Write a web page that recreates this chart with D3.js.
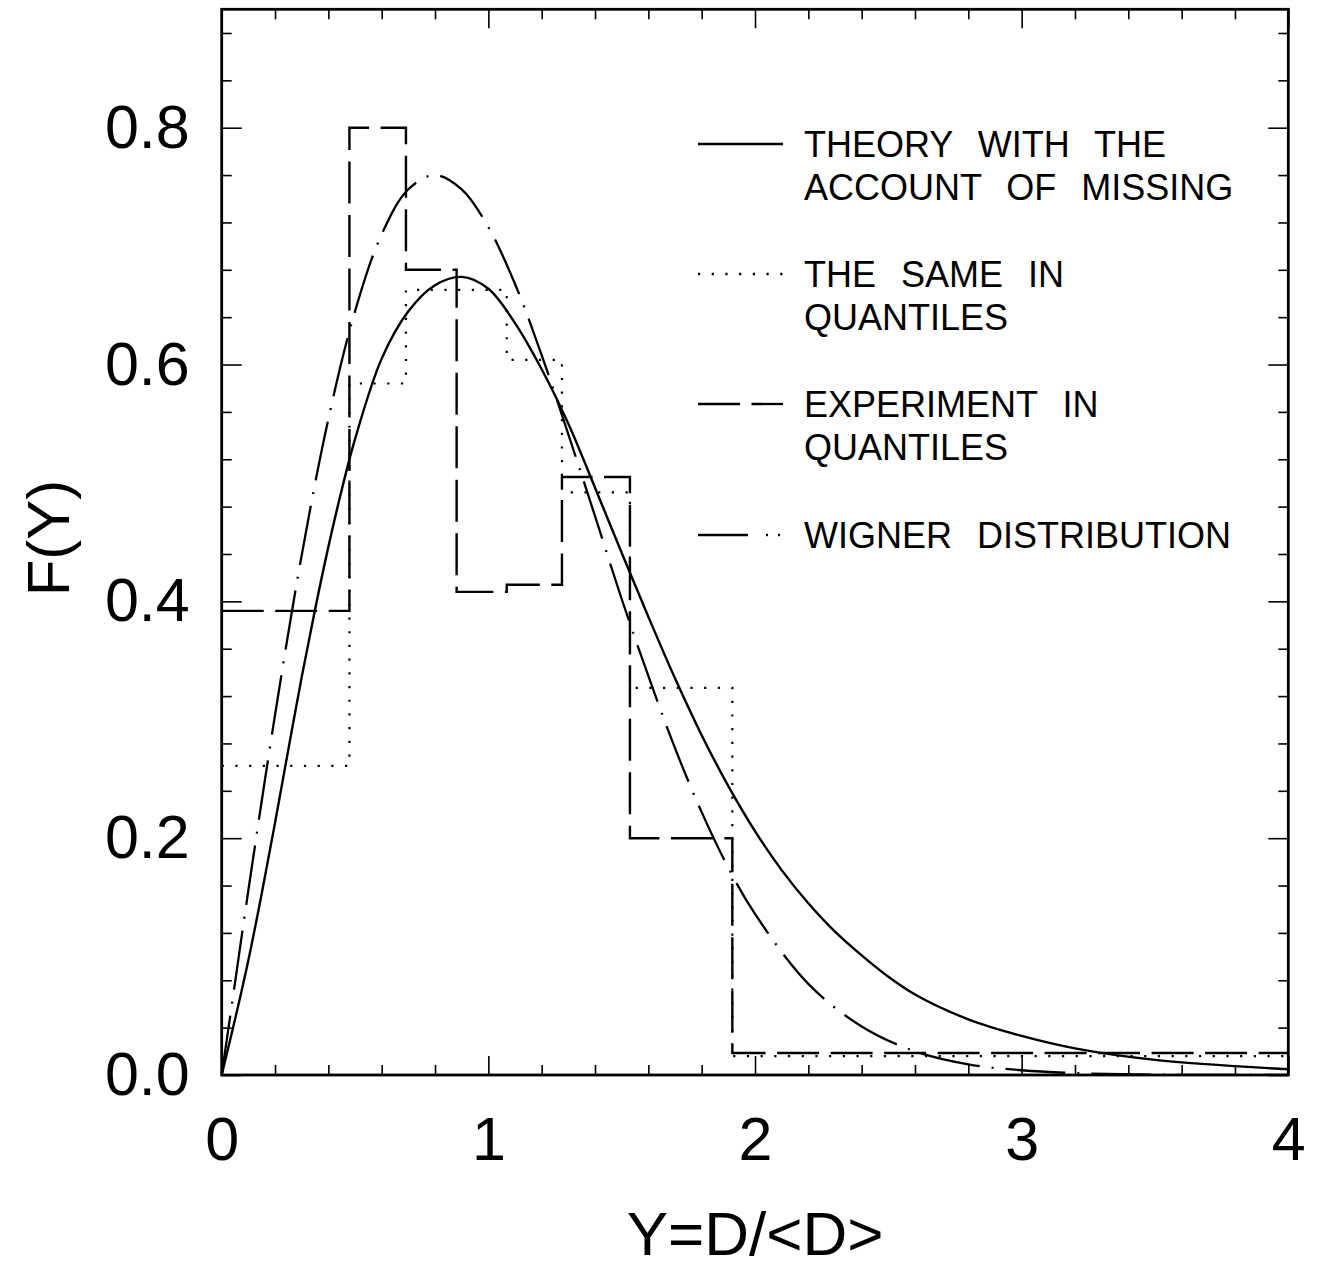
<!DOCTYPE html>
<html>
<head>
<meta charset="utf-8">
<script src="https://cdn.jsdelivr.net/npm/d3@7"></script>
<style>
  html, body { margin: 0; padding: 0; background: #fff; }
  svg { display: block; }
  text { font-family: "Liberation Sans", Arial, Helvetica, sans-serif; fill: #000; }
</style>
</head>
<body>
<svg id="chart" width="1322" height="1267"></svg>
<script>
// ---------------- DATA ----------------
const xTickMajor = [0, 1, 2, 3, 4];
const xTickLabels = ["0", "1", "2", "3", "4"];
const yTickMajor = [0, 0.2, 0.4, 0.6, 0.8];
const yTickLabels = ["0.0", "0.2", "0.4", "0.6", "0.8"];

// Theory with the account of missing (solid curve)
const theoryX = [0, 0.05, 0.1, 0.15, 0.2, 0.25, 0.3, 0.35, 0.4, 0.45, 0.5, 0.6, 0.7, 0.8, 0.9, 1.0, 1.1, 1.2, 1.3, 1.4, 1.5, 1.6, 1.7, 1.8, 1.9, 2.0, 2.1, 2.2, 2.3, 2.4, 2.5, 2.6, 2.8, 3.0, 3.2, 3.5, 4.0];
const theoryY = [0, 0.047, 0.097, 0.153, 0.213, 0.275, 0.336, 0.393, 0.446, 0.494, 0.537, 0.605, 0.645, 0.667, 0.674, 0.664, 0.635, 0.596, 0.550, 0.496, 0.441, 0.387, 0.335, 0.287, 0.244, 0.206, 0.173, 0.145, 0.121, 0.101, 0.083, 0.068, 0.047, 0.033, 0.0225, 0.0128, 0.0048];

// Wigner distribution (dash-dot curve)
const wignerX = [0, 0.05, 0.1, 0.2, 0.3, 0.4, 0.5, 0.6, 0.7, 0.8, 0.9, 1.0, 1.1, 1.2, 1.3, 1.4, 1.5, 1.6, 1.7, 1.8, 1.9, 2.0, 2.2, 2.4, 2.6, 2.8, 3.0, 3.2, 3.5, 4.0];
const wignerY = [0, 0.078, 0.156, 0.304, 0.439, 0.554, 0.645, 0.710, 0.748, 0.760, 0.748, 0.716, 0.668, 0.608, 0.541, 0.472, 0.402, 0.337, 0.276, 0.222, 0.175, 0.136, 0.077, 0.041, 0.020, 0.009, 0.004, 0.0016, 0.0003, 0.0];

// Quantile bin edges (shared by both histograms)
const binEdges = [0, 0.479, 0.691, 0.881, 1.069, 1.276, 1.531, 1.915, 4.0];
// The same (theory) in quantiles  (dotted)
const theoryQuant = [0.261, 0.584, 0.663, 0.663, 0.604, 0.492, 0.327, 0.016];
// Experiment in quantiles (dashed)
const experQuant = [0.392, 0.800, 0.680, 0.408, 0.414, 0.505, 0.200, 0.0186];

const legendLabels = [
  ["THEORY WITH THE", "ACCOUNT OF MISSING"],
  ["THE SAME IN", "QUANTILES"],
  ["EXPERIMENT IN", "QUANTILES"],
  ["WIGNER DISTRIBUTION"]
];
const xTitle = "Y=D/<D>";
const yTitle = "F(Y)";

// ---------------- DRAWING ----------------
const svg = d3.select("#chart");
const x = d3.scaleLinear().domain([0, 4]).range([221.7, 1288.3]);
const y = d3.scaleLinear().domain([0, 0.9]).range([1075, 9.3]);

const FONT_TICK = 61;
const styles = {
  theory: { dash: null },
  same: { dash: "2.2,11.5" },
  exper: { dash: "42,11.5" },
  wigner: { dash: "60,12,2,12" }
};

const xMinor = d3.range(0, 4.0001, 0.2).filter(v => !xTickMajor.some(m => Math.abs(m - v) < 1e-6));
const yMinor = d3.range(0, 0.9001, 0.04).filter(v => !yTickMajor.some(m => Math.abs(m - v) < 1e-6));

function styleAxis(g) {
  g.select(".domain").remove();
  g.selectAll(".tick line").attr("stroke", "#000").attr("stroke-width", 1.6);
}
function styleLabels(g) {
  g.selectAll("text").attr("font-size", FONT_TICK)
    .style("font-family", '"Liberation Sans", Arial, sans-serif').attr("fill", "#000");
}

// bottom
svg.append("g").attr("transform", `translate(0,${y(0)})`)
  .call(d3.axisBottom(x).tickValues(xMinor).tickSize(-10).tickFormat(""))
  .call(styleAxis);
svg.append("g").attr("transform", `translate(0,${y(0)})`)
  .call(d3.axisBottom(x).tickValues(xTickMajor).tickSize(-19).tickPadding(42)
    .tickFormat((d, i) => xTickLabels[i]))
  .call(styleAxis).call(styleLabels);
// top
svg.append("g").attr("transform", `translate(0,${y(0.9)})`)
  .call(d3.axisTop(x).tickValues(xMinor).tickSize(-10).tickFormat(""))
  .call(styleAxis);
svg.append("g").attr("transform", `translate(0,${y(0.9)})`)
  .call(d3.axisTop(x).tickValues(xTickMajor).tickSize(-19).tickFormat(""))
  .call(styleAxis);
// left
svg.append("g").attr("transform", `translate(${x(0)},0)`)
  .call(d3.axisLeft(y).tickValues(yMinor).tickSize(-10).tickFormat(""))
  .call(styleAxis);
svg.append("g").attr("transform", `translate(${x(0)},0)`)
  .call(d3.axisLeft(y).tickValues(yTickMajor).tickSize(-20).tickPadding(32)
    .tickFormat((d, i) => yTickLabels[i]))
  .call(styleAxis).call(styleLabels);
// right
svg.append("g").attr("transform", `translate(${x(4)},0)`)
  .call(d3.axisRight(y).tickValues(yMinor).tickSize(-10).tickFormat(""))
  .call(styleAxis);
svg.append("g").attr("transform", `translate(${x(4)},0)`)
  .call(d3.axisRight(y).tickValues(yTickMajor).tickSize(-20).tickFormat(""))
  .call(styleAxis);

// clip
svg.append("clipPath").attr("id", "plotclip").append("rect")
  .attr("x", x(0)).attr("y", y(0.9)).attr("width", x(4) - x(0)).attr("height", y(0) - y(0.9));
const plot = svg.append("g").attr("clip-path", "url(#plotclip)");

const smooth = d3.line().x(d => x(d[0])).y(d => y(d[1])).curve(d3.curveCatmullRom.alpha(0.5));
const step = d3.line().x(d => x(d[0])).y(d => y(d[1])).curve(d3.curveStepAfter);

function stepData(vals) {
  const pts = vals.map((v, i) => [binEdges[i], v]);
  pts.push([binEdges[binEdges.length - 1], vals[vals.length - 1]]);
  return pts;
}

plot.append("path").datum(stepData(theoryQuant))
  .attr("d", step).attr("fill", "none").attr("stroke", "#000")
  .attr("stroke-width", 2.2).attr("stroke-dasharray", styles.same.dash);
plot.append("path").datum(stepData(experQuant))
  .attr("d", step).attr("fill", "none").attr("stroke", "#000")
  .attr("stroke-width", 2.4).attr("stroke-dasharray", styles.exper.dash);
plot.append("path").datum(wignerX.map((v, i) => [v, wignerY[i]]))
  .attr("d", smooth).attr("fill", "none").attr("stroke", "#000")
  .attr("stroke-width", 2.3).attr("stroke-dasharray", styles.wigner.dash);
plot.append("path").datum(theoryX.map((v, i) => [v, theoryY[i]]))
  .attr("d", smooth).attr("fill", "none").attr("stroke", "#000")
  .attr("stroke-width", 2.4);

// frame
svg.append("rect")
  .attr("x", x(0)).attr("y", y(0.9)).attr("width", x(4) - x(0)).attr("height", y(0) - y(0.9))
  .attr("fill", "none").attr("stroke", "#000").attr("stroke-width", 2.8);

// legend
const legendKeys = ["theory", "same", "exper", "wigner"];
const legendRowY = [144, 274, 404, 535];
const lg = svg.append("g");
legendKeys.forEach((k, i) => {
  const yy = legendRowY[i];
  lg.append("line").attr("x1", 698).attr("x2", 783).attr("y1", yy).attr("y2", yy)
    .attr("stroke", "#000").attr("stroke-width", 2.3)
    .attr("stroke-dasharray", k === "wigner" ? "50,18,2,10,2,10" : (styles[k].dash || null));
  legendLabels[i].forEach((t, j) => {
    lg.append("text").attr("x", 804).attr("y", yy + 13 + j * 43)
      .attr("font-size", 36).style("word-spacing", "15px").text(t);
  });
});

// axis titles
svg.append("text").attr("x", (x(0) + x(4)) / 2).attr("y", 1255)
  .attr("text-anchor", "middle").attr("font-size", 62).text(xTitle);
svg.append("text").attr("transform", "translate(69,538) rotate(-90)")
  .attr("text-anchor", "middle").attr("font-size", 60).text(yTitle);
</script>
</body>
</html>
